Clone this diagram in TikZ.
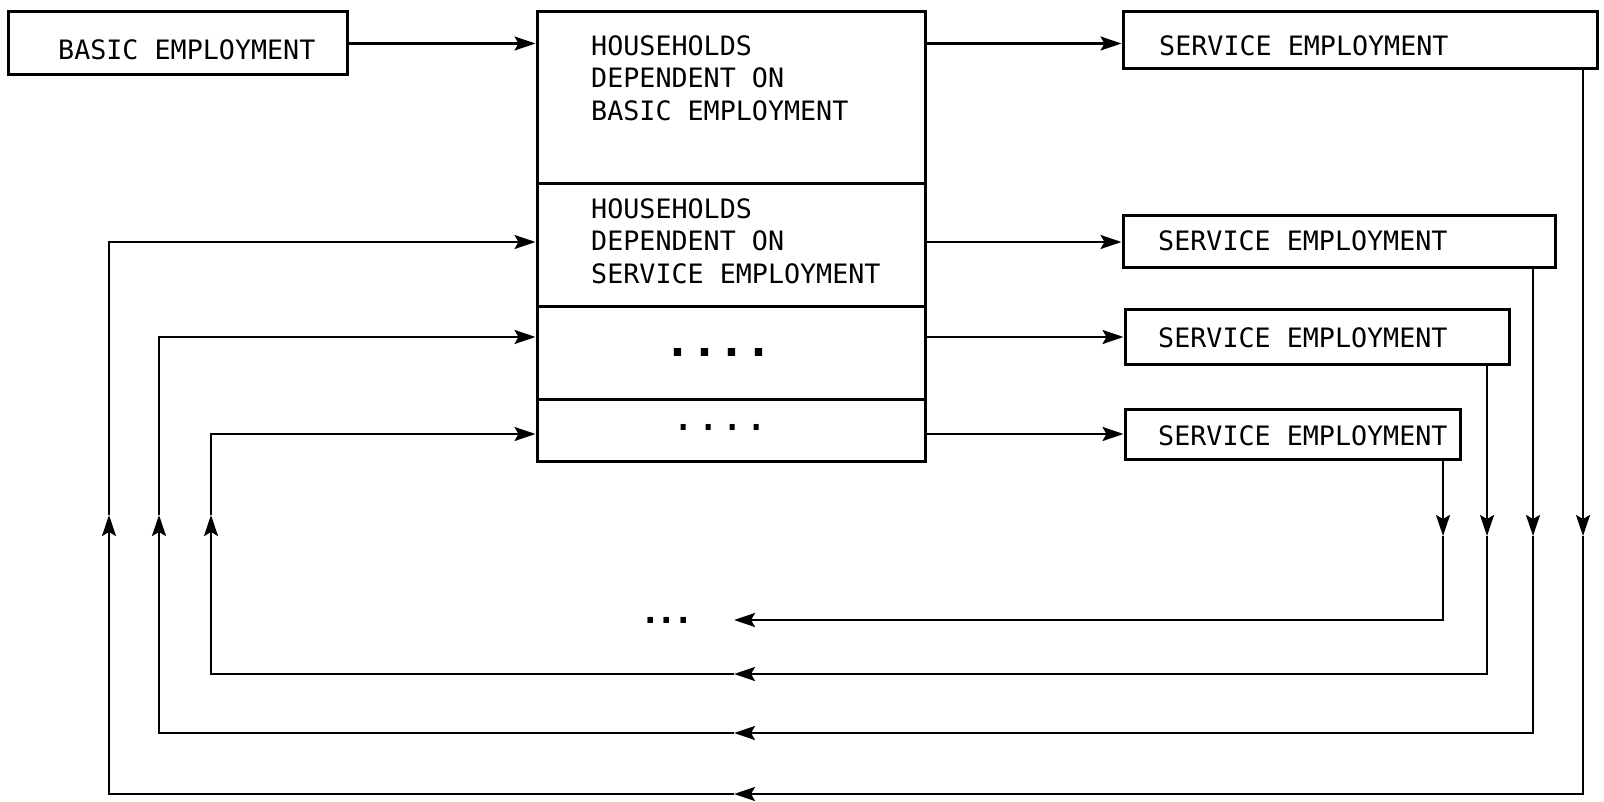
\documentclass[tikz,border=0pt]{standalone}
\usepackage{fontspec}
\newfontfamily\monofont{DejaVu Sans Mono}
\usetikzlibrary{arrows.meta}
\newcommand{\labfont}{\monofont\fontsize{26.7}{32.6}\selectfont}
\tikzset{
  box/.style={draw, line width=3pt, inner sep=0pt},
  lab/.style={font=\labfont, inner sep=0pt, anchor=base west},
  multilab/.style={font=\labfont, inner sep=0pt, anchor=north west, align=left},
  dots/.style={font=\monofont\fontsize{#1}{#1}\selectfont, inner sep=0pt},
  bolddots/.style={font=\monofont\bfseries\fontsize{#1}{#1}\selectfont, inner sep=0pt},
  flow/.style={-{Stealth[length=21pt, width=14pt, inset=4pt]}, line width=2.4pt},
}

\begin{document}
\begin{tikzpicture}[x=1pt, y=-1pt]
  \useasboundingbox (0,0) rectangle (1604,802);
  % boxes
  \node[box, minimum width=339pt, minimum height=63pt] (basic) at (177.5,43.5) {};
  \node[box, minimum width=388pt, minimum height=172pt] (hh1) at (731,98) {};
  \node[box, minimum width=388pt, minimum height=123pt] (hh2) at (731,245.5) {};
  \node[box, minimum width=388pt, minimum height=92pt] (hh3) at (731,353) {};
  \node[box, minimum width=388pt, minimum height=62pt] (hh4) at (731,430) {};
  \node[box, minimum width=474pt, minimum height=57pt] (svc1) at (1360,40.5) {};
  \node[box, minimum width=432pt, minimum height=52pt] (svc2) at (1339,242) {};
  \node[box, minimum width=384pt, minimum height=54pt] (svc3) at (1317,337) {};
  \node[box, minimum width=335pt, minimum height=50pt] (svc4) at (1292.5,434) {};
  % texts
  \node[lab] (basictxt) at (58,60) {BASIC EMPLOYMENT};
  \node[multilab] (hh1txt) at (591,35) {HOUSEHOLDS\\DEPENDENT ON\\BASIC EMPLOYMENT};
  \node[multilab] (hh2txt) at (591,198) {HOUSEHOLDS\\DEPENDENT ON\\SERVICE EMPLOYMENT};
  \node[bolddots=44.8] (hh3dots) at (718.5,352) {....};
  \node[dots=40.5] (hh4dots) at (720.5,427) {....};
  \node[lab] (svc1txt) at (1159,56) {SERVICE EMPLOYMENT};
  \node[lab] (svc2txt) at (1158,251) {SERVICE EMPLOYMENT};
  \node[lab] (svc3txt) at (1158,348) {SERVICE EMPLOYMENT};
  \node[lab] (svc4txt) at (1158,445) {SERVICE EMPLOYMENT};
  \node[bolddots=34] (backdots) at (667,620) {.\hspace{-4pt}.\hspace{-4pt}.};
  % forward arrows
  \draw[flow] (basic.east) -- (hh1.west |- basic.east);
  \draw[flow] (hh1.east |- basic.east) -- (svc1.west |- basic.east);
  \draw[flow] (hh2.east |- svc2.west) -- (svc2.west);
  \draw[flow] (hh3.east |- svc3.west) -- (svc3.west);
  \draw[flow] (hh4.east |- svc4.west) -- (svc4.west);
  % return loops
  \coordinate (down) at (0,536);
  \coordinate (up) at (0,515);
  \coordinate (back) at (734,0);
  \coordinate (r1) at (1583,794); \coordinate (l1) at (109,794);
  \coordinate (r2) at (1533,733); \coordinate (l2) at (159,733);
  \coordinate (r3) at (1487,674); \coordinate (l3) at (211,674);
  \coordinate (r4) at (1443,620);
  \draw[flow] (svc1.south -| r1) -- (r1 |- down);
  \draw[flow] (r1 |- down) -- (r1) -- (back |- r1);
  \draw[flow] (back |- r1) -- (l1) -- (l1 |- up);
  \draw[flow] (l1 |- up) -- (l1 |- svc2.west) -- (hh2.west |- svc2.west);
  \draw[flow] (svc2.south -| r2) -- (r2 |- down);
  \draw[flow] (r2 |- down) -- (r2) -- (back |- r2);
  \draw[flow] (back |- r2) -- (l2) -- (l2 |- up);
  \draw[flow] (l2 |- up) -- (l2 |- svc3.west) -- (hh3.west |- svc3.west);
  \draw[flow] (svc3.south -| r3) -- (r3 |- down);
  \draw[flow] (r3 |- down) -- (r3) -- (back |- r3);
  \draw[flow] (back |- r3) -- (l3) -- (l3 |- up);
  \draw[flow] (l3 |- up) -- (l3 |- svc4.west) -- (hh4.west |- svc4.west);
  \draw[flow] (svc4.south -| r4) -- (r4 |- down);
  \draw[flow] (r4 |- down) -- (r4) -- (back |- r4);
\end{tikzpicture}
\end{document}
